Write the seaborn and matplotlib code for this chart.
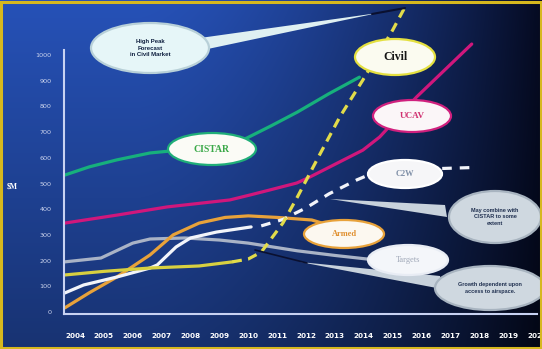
import numpy as np
import matplotlib
matplotlib.use("Agg")
import matplotlib.pyplot as plt
from matplotlib.patches import Ellipse, Polygon, Rectangle
import seaborn as sns

# ---- data (years, $M) ----
cistar_x = [2003.65, 2004.5, 2005.45, 2006.6, 2008.0, 2009.3, 2009.95, 2010.8, 2011.7, 2012.8, 2013.85]
cistar_y = [533, 565, 592, 619, 634, 650, 677, 725, 778, 850, 914]

ucav_x = [2003.65, 2005.45, 2007.2, 2009.36, 2010.05, 2010.75, 2011.68, 2012.13, 2013.97, 2014.55, 2015.83, 2017.74]
ucav_y = [346, 377, 409, 436, 455, 475, 502, 525, 630, 681, 837, 1043]

civil_x = [2003.65, 2005.0, 2006.6, 2008.3, 2009.45]
civil_y = [144, 158, 171, 179, 195]
civil_fc_x = [2009.45, 2010.0, 2010.45, 2011.2, 2011.7, 2012.5, 2013.17, 2013.97, 2015.0, 2015.5]
civil_fc_y = [195, 206, 233, 346, 447, 618, 759, 903, 1097, 1202]

armed_x = [2003.65, 2004.5, 2005.45, 2006.6, 2007.4, 2008.3, 2009.2, 2010.0, 2011.0, 2012.2, 2013.0]
armed_y = [16, 75, 136, 222, 300, 346, 368, 374, 368, 358, 331]

targets_x = [2003.65, 2004.9, 2006.0, 2006.6, 2007.8, 2009.0, 2010.0, 2011.7, 2013.0, 2014.2]
targets_y = [195, 210, 268, 284, 288, 280, 268, 238, 220, 205]

white_x = [2003.65, 2004.3, 2005.45, 2006.6, 2006.85, 2007.5, 2008.0, 2008.9, 2010.1]
white_y = [74, 105, 136, 171, 183, 253, 288, 311, 331]

c2w_x = [2010.45, 2011.2, 2012.0, 2012.8, 2013.76, 2014.2, 2016.0, 2017.7]
c2w_y = [335, 360, 405, 460, 514, 535, 556, 562]

year_ticks = list(range(2004, 2021))
value_ticks = list(range(0, 1001, 100))

# ---- figure ----
sns.set_theme(style="white")
fig = plt.figure(figsize=(5.42, 3.49), dpi=100)

# gradient background
bg = fig.add_axes([0, 0, 1, 1], zorder=-2)
h, w = 349, 542
fx = np.linspace(0, 1, w)[None, :]
fy = np.linspace(0, 1, h)[:, None]
light = np.array([0.15, 0.32, 0.72])
dark = np.array([0.02, 0.04, 0.13])
t = np.clip((fx - 0.25) / 0.75, 0, 1) ** 1.6
img = light[None, None, :] * (1 - t[..., None]) + dark[None, None, :] * t[..., None]
img = img * (1 - 0.38 * fy[..., None])
bg.imshow(img, aspect="auto", extent=[0, 1, 0, 1])
bg.axis("off")

ax = fig.add_axes([64 / 542, 35 / 349, 473 / 542, 309 / 349])
ax.set_facecolor("none")

lw = 2.3
sns.lineplot(x=cistar_x, y=cistar_y, ax=ax, color="#17b07c", lw=lw)
sns.lineplot(x=ucav_x, y=ucav_y, ax=ax, color="#d0177c", lw=lw)
sns.lineplot(x=targets_x, y=targets_y, ax=ax, color="#a9b3c6", lw=lw)
sns.lineplot(x=armed_x, y=armed_y, ax=ax, color="#e8a23a", lw=lw)
sns.lineplot(x=white_x, y=white_y, ax=ax, color="#f2f4fa", lw=lw)
sns.lineplot(x=c2w_x, y=c2w_y, ax=ax, color="#f2f4fa", lw=lw, linestyle=(0, (3, 2.5)))
sns.lineplot(x=civil_x, y=civil_y, ax=ax, color="#d8d040", lw=lw)
sns.lineplot(x=civil_fc_x, y=civil_fc_y, ax=ax, color="#e2dc4a", lw=lw, linestyle=(0, (3, 2)))

ax.set_xlim(2003.62, 2020.0)
ax.set_ylim(-8, 1195)
ax.set_xticks(year_ticks)
ax.set_xticklabels([str(y) for y in year_ticks])
ax.set_yticks(value_ticks)
ax.set_yticklabels([str(v) for v in value_ticks])
ax.tick_params(axis="x", length=0, pad=14, labelsize=5.2, labelcolor="white")
ax.tick_params(axis="y", length=0, pad=9, labelsize=4.6, labelcolor="#cdd5ee")
for lab in ax.get_xticklabels():
    lab.set_fontweight("bold")
ax.set_xlabel("")
ax.set_ylabel("")
for s in ["top", "right"]:
    ax.spines[s].set_visible(False)
ax.spines["left"].set_color("#c8d2f2")
ax.spines["left"].set_linewidth(1.5)
ax.spines["left"].set_bounds(-8, 1020)
ax.spines["bottom"].set_color("#c8d2f2")
ax.spines["bottom"].set_linewidth(1.5)
ax.grid(False)

# overlay in pixel coordinates for the callouts
ov = fig.add_axes([0, 0, 1, 1], zorder=5)
ov.set_xlim(0, 542)
ov.set_ylim(349, 0)
ov.axis("off")
ov.set_facecolor("none")

fig.text(0.012, 1 - 186 / 349, "\\$M", color="white", fontsize=5.5,
         family="Liberation Serif", fontweight="bold", va="center")

# pointers
ov.add_patch(Polygon([[200, 38], [203, 50], [378, 13]], closed=True, fc="#dff0f2", ec="none"))
ov.plot([372, 405], [14, 8], color="#0a1030", lw=1.5)
ov.add_patch(Polygon([[330, 199], [445, 205], [447, 217]], closed=True, fc="#c8d2dc", ec="none"))
ov.plot([255, 307], [250, 263], color="#0a1030", lw=1.2)
ov.add_patch(Polygon([[300, 262], [440, 276], [442, 289]], closed=True, fc="#c8d2dc", ec="none"))

callouts = [
    # (cx, cy, w, h, face, edge, text, text colour, size, family, weight)
    (150, 48, 118, 50, "#e6f6f8", "#b8d0d8", "High Peak\nForecast\nin Civil Market", "#102040", 4.3, "Liberation Sans", "bold"),
    (495, 217, 92, 52, "#cfd8e0", "#a8b4c0", "May combine with\nCISTAR to some\nextent", "#203050", 4.0, "Liberation Sans", "bold"),
    (490, 288, 110, 44, "#cfd8e0", "#a8b4c0", "Growth dependent upon\naccess to airspace.", "#203050", 4.0, "Liberation Sans", "bold"),
    (395, 57, 80, 36, "#fbfbf0", "#e4e040", "Civil", "#151515", 8.5, "Liberation Serif", "bold"),
    (212, 149, 88, 32, "#fbfbf6", "#1fae78", "CISTAR", "#3aa848", 7.0, "Liberation Serif", "bold"),
    (412, 116, 78, 32, "#fbf6f8", "#d0207e", "UCAV", "#d03070", 6.5, "Liberation Serif", "bold"),
    (405, 174, 74, 28, "#f6f6f8", "#ffffff", "C2W", "#8090a8", 6.0, "Liberation Serif", "bold"),
    (344, 234, 80, 28, "#fcf8f0", "#e8a23a", "Armed", "#e09030", 6.0, "Liberation Serif", "bold"),
    (408, 260, 80, 30, "#f4f6fa", "#e8ecf4", "Targets", "#a0a8b8", 6.0, "Liberation Serif", "normal"),
]
for cx, cy, ew, eh, fc, ec, txt, tc, fs, fam, fw in callouts:
    ov.add_patch(Ellipse((cx, cy), ew, eh, fc=fc, ec=ec, lw=1.6))
    ov.text(cx, cy, txt, ha="center", va="center", color=tc, fontsize=fs,
            family=fam, fontweight=fw, linespacing=1.3)

# gold frame
fig.add_artist(Rectangle((0.002, 0.004), 0.996, 0.99, transform=fig.transFigure,
                         fill=False, ec="#d6b81e", lw=2.2, zorder=10))

fig.savefig("out.png", dpi=100)
